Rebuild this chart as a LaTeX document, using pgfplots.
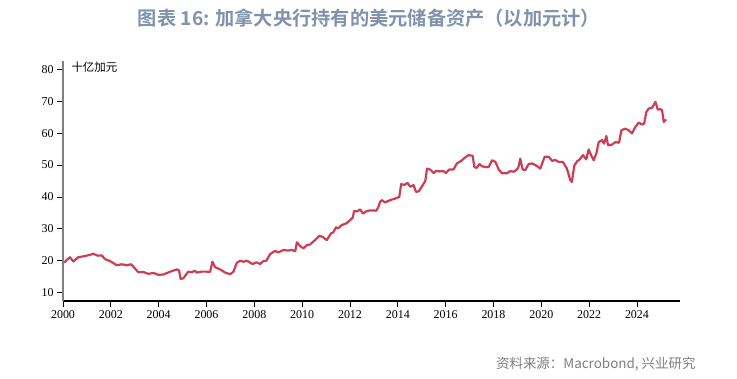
\documentclass[border=0pt]{standalone}
\usepackage{fontspec}
\setmainfont{Liberation Serif}
\newfontfamily\cjk{Noto Sans CJK SC}
\newfontfamily\cjkbold{Noto Sans CJK SC Bold}
\usepackage{pgfplots}
\pgfplotsset{compat=1.18}
\definecolor{titleblue}{RGB}{128,146,172}
\definecolor{linered}{RGB}{204,62,86}
\definecolor{srcgray}{RGB}{125,125,125}
\begin{document}
\begin{tikzpicture}[x=1bp,y=1bp]
\useasboundingbox (0,0) rectangle (737,378);
\node[text=titleblue, font={\cjkbold\fontsize{19.3}{21}\selectfont}] at (369,360) {图表 16: 加拿大央行持有的美元储备资产（以加元计）};
\node[anchor=east, text=srcgray, font={\cjk\fontsize{13.5}{15}\selectfont}] at (699,14) {资料来源：Macrobond, 兴业研究};
\begin{axis}[
  at={(63bp,77bp)}, anchor=south west,
  scale only axis, width=617bp, height=240bp,
  xmin=2000, xmax=2025.8, ymin=7.4, ymax=82.6,
  axis x line=bottom, axis y line=left,
  axis line style={-},
  x axis line style={black, line width=1.1bp},
  y axis line style={black!50, line width=1.8bp},
  xtick={2000,2002,...,2024}, ytick={10,20,...,80},
  tick align=outside, major tick length=6bp,
  tick style={black, line width=0.8bp},
  ticklabel style={font=\fontsize{12}{13}\selectfont},
  /pgf/number format/assume math mode=true,
  xticklabel style={/pgf/number format/1000 sep={}},
  clip=false,
]
\addplot[linered, line width=2.2bp, line join=round] coordinates {
(2000.05,19.4)(2000.15,20.2)(2000.29,21.1)(2000.43,19.8)(2000.64,21.1)(2000.92,21.5)
(2001.1,21.8)(2001.27,22.2)(2001.45,21.6)(2001.62,21.7)(2001.76,20.5)(2001.97,19.9)
(2002.1,19.3)(2002.25,18.6)(2002.46,18.9)(2002.67,18.6)(2002.85,18.9)(2003.01,17.6)
(2003.15,16.4)(2003.36,16.5)(2003.57,15.9)(2003.78,16.2)(2003.99,15.6)(2004.2,15.7)
(2004.45,16.5)(2004.76,17.3)(2004.85,17.0)(2004.92,14.3)(2005.03,14.5)(2005.24,16.6)
(2005.4,16.4)(2005.5,16.9)(2005.6,16.3)(2005.8,16.6)(2006.0,16.6)(2006.15,16.5)
(2006.25,19.7)(2006.36,18.0)(2006.57,17.3)(2006.78,16.3)(2006.99,15.8)(2007.13,16.6)
(2007.27,19.4)(2007.41,20.0)(2007.54,19.7)(2007.7,20.0)(2007.92,19.0)(2008.1,19.5)
(2008.24,19.0)(2008.38,19.9)(2008.5,20.0)(2008.66,22.1)(2008.87,23.1)(2009.0,22.6)
(2009.22,23.4)(2009.4,23.2)(2009.57,23.4)(2009.71,23.0)(2009.78,25.8)(2009.92,24.6)
(2010.05,23.9)(2010.2,24.9)(2010.33,25.1)(2010.54,26.5)(2010.72,27.8)(2010.85,27.5)
(2011.03,26.5)(2011.21,28.6)(2011.3,28.9)(2011.42,30.5)(2011.5,30.1)(2011.66,31.2)
(2011.84,31.7)(2012.0,32.7)(2012.12,33.6)(2012.17,35.6)(2012.3,35.5)(2012.43,36.1)
(2012.54,34.8)(2012.71,35.6)(2012.85,35.8)(2013.1,35.7)(2013.19,36.9)(2013.26,38.5)
(2013.33,39.0)(2013.47,38.3)(2013.68,39.0)(2013.89,39.5)(2014.06,40.0)(2014.14,44.0)
(2014.28,43.8)(2014.41,44.4)(2014.52,43.2)(2014.66,43.7)(2014.76,41.6)(2014.88,41.8)
(2015.0,43.2)(2015.15,45.0)(2015.22,48.9)(2015.35,48.6)(2015.5,47.5)(2015.61,48.2)
(2015.75,48.0)(2015.91,48.1)(2016.01,47.5)(2016.15,48.6)(2016.33,48.6)(2016.47,50.5)
(2016.65,51.3)(2016.82,52.4)(2016.96,53.1)(2017.13,52.9)(2017.2,49.4)(2017.3,49.1)
(2017.42,50.3)(2017.52,49.6)(2017.66,49.4)(2017.8,49.4)(2017.94,51.5)(2018.08,51.0)
(2018.22,48.6)(2018.36,47.4)(2018.56,47.4)(2018.7,48.1)(2018.84,47.9)(2018.98,48.6)
(2019.05,49.5)(2019.12,52.0)(2019.22,48.6)(2019.33,48.4)(2019.47,50.3)(2019.61,50.5)
(2019.75,50.0)(2019.96,48.9)(2020.14,52.6)(2020.31,52.6)(2020.45,51.3)(2020.58,51.6)
(2020.72,51.0)(2020.9,51.0)(2021.07,48.9)(2021.21,45.3)(2021.28,44.7)(2021.38,49.8)
(2021.5,51.2)(2021.6,51.7)(2021.74,53.1)(2021.88,51.8)(2021.98,54.9)(2022.08,53.1)
(2022.19,51.5)(2022.3,53.6)(2022.4,57.2)(2022.54,57.8)(2022.62,56.7)(2022.72,59.1)
(2022.79,56.2)(2022.96,56.4)(2023.1,57.2)(2023.25,57.0)(2023.35,60.9)(2023.51,61.4)
(2023.65,60.9)(2023.79,59.9)(2023.93,61.9)(2024.07,63.3)(2024.21,62.7)(2024.3,63.0)
(2024.39,66.6)(2024.49,67.7)(2024.63,67.9)(2024.77,69.8)(2024.87,67.4)(2024.98,67.5)
(2025.05,67.2)(2025.12,63.5)(2025.22,64.3)
};
\end{axis}
\node[anchor=west, font={\cjk\fontsize{11.5}{12}\selectfont}] at (68,311) {十亿加元};
\end{tikzpicture}
\end{document}
